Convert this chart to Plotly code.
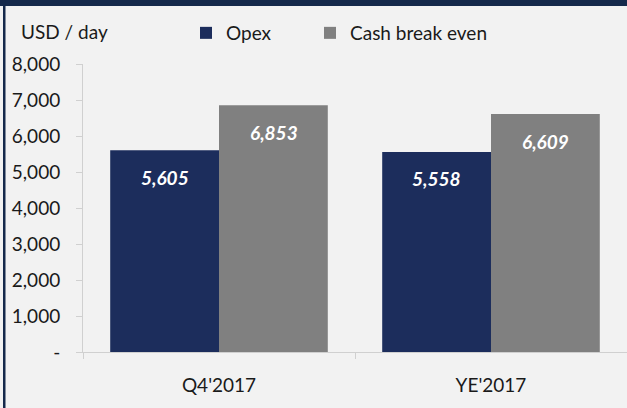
import plotly.graph_objects as go

categories = ["Q4'2017", "YE'2017"]
opex = [5605, 5558]
cash_break_even = [6853, 6609]
y_tickvals = [0, 1000, 2000, 3000, 4000, 5000, 6000, 7000, 8000]
y_ticktext = ["-", "1,000", "2,000", "3,000", "4,000", "5,000", "6,000", "7,000", "8,000"]

NAVY = "#1c2d5c"
GRAY = "#808080"
BG = "#f2f2f2"
BAND = "#15294b"
FONT = "Lato"
FS = 19

fig = go.Figure()
fig.add_trace(go.Bar(name="Opex", x=categories, y=opex, marker_color=NAVY,
                     marker_line_width=0, legend="legend"))
fig.add_trace(go.Bar(name="Cash break even", x=categories, y=cash_break_even, marker_color=GRAY,
                     marker_line_width=0, legend="legend2"))

annotations = []
for vals, shift in ((opex, -54.5), (cash_break_even, 54.5)):
    for c, v in zip(categories, vals):
        annotations.append(dict(
            x=c, y=v, xref="x", yref="y", xshift=shift, yshift=-27,
            text=f"{v:,}", showarrow=False, yanchor="middle",
            font=dict(family=FONT, size=FS, color="white", weight="bold", style="italic"),
        ))

annotations.append(dict(
    x=(19 - 83) / 544, y=(352 - 32) / 288, xref="paper", yref="paper",
    text="USD / day", showarrow=False, xanchor="left", yanchor="middle",
    font=dict(family=FONT, size=FS, color="#1a1a1a"),
))

shapes = [
    dict(type="rect", xref="paper", yref="paper",
         x0=-0.2, x1=1.1, y0=(352 - 6) / 288, y1=1.3,
         fillcolor=BAND, line_width=0, layer="above"),
    dict(type="rect", xref="paper", yref="paper",
         x0=(3 - 83) / 544, x1=(5.5 - 83) / 544, y0=-0.3, y1=1.3,
         fillcolor=BAND, line_width=0, layer="above"),
]

legend_common = dict(orientation="h", xanchor="left", yanchor="middle",
                     y=(352 - 33) / 288, bgcolor="rgba(0,0,0,0)",
                     font=dict(family=FONT, size=FS, color="#1a1a1a"))

fig.update_layout(
    width=627, height=408,
    margin=dict(l=83, r=0, t=64, b=56),
    paper_bgcolor=BG, plot_bgcolor=BG,
    barmode="group", bargap=0.2, bargroupgap=0,
    font=dict(family=FONT, size=FS, color="#1a1a1a"),
    showlegend=True,
    legend=dict(x=(186 - 83) / 544, **legend_common),
    legend2=dict(x=(310 - 83) / 544, **legend_common),
    annotations=annotations,
    shapes=shapes,
    xaxis=dict(
        showgrid=False, showline=True, linecolor="#d0d0d0", linewidth=1,
        ticks="outside", tickson="boundaries", ticklen=6, tickcolor="#d0d0d0",
        ticklabelstandoff=16,
        tickfont=dict(family=FONT, size=FS, color="#1a1a1a"),
    ),
    yaxis=dict(
        range=[0, 8000], showgrid=False, zeroline=False,
        showline=True, linecolor="#d0d0d0", linewidth=1,
        ticks="outside", ticklen=6, tickcolor="#d0d0d0",
        tickvals=y_tickvals, ticktext=y_ticktext,
        ticklabelstandoff=12,
        tickfont=dict(family=FONT, size=FS, color="#1a1a1a"),
    ),
)

fig.write_html("out.html", config={"displayModeBar": False},
               post_script="document.body.style.margin='0';document.body.style.overflow='hidden';")
